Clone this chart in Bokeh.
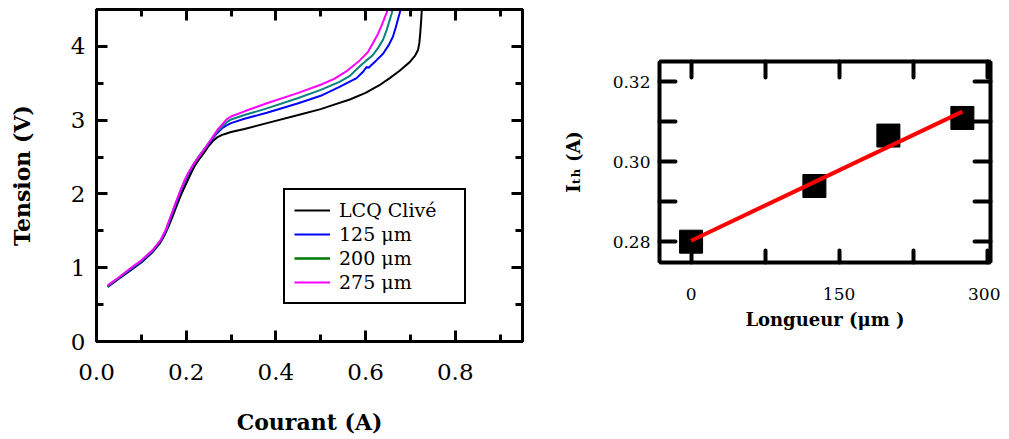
from bokeh.plotting import figure
from bokeh.layouts import row, column
from bokeh.models import (Range1d, FixedTicker, LinearAxis, PrintfTickFormatter,
                          Legend, LegendItem, CustomJSTickFormatter)
from bokeh.embed import file_html
from bokeh.resources import INLINE
import numpy as np

# ---------------- data: V(I) curves ----------------
clive_I = [0.025, 0.05, 0.075, 0.10, 0.125, 0.14, 0.15, 0.16, 0.17, 0.18, 0.19, 0.20, 0.21, 0.22,
           0.23, 0.24, 0.25, 0.26, 0.27, 0.28, 0.29, 0.30, 0.33, 0.38, 0.45, 0.50, 0.53, 0.565,
           0.60, 0.63, 0.654, 0.676, 0.699, 0.710, 0.717, 0.720, 0.722, 0.724, 0.726]
clive_V = [0.74, 0.85, 0.96, 1.07, 1.21, 1.32, 1.42, 1.55, 1.70, 1.86, 2.01, 2.14, 2.27, 2.39,
           2.48, 2.56, 2.65, 2.72, 2.77, 2.80, 2.82, 2.84, 2.88, 2.96, 3.07, 3.15, 3.21, 3.28,
           3.37, 3.47, 3.57, 3.67, 3.79, 3.87, 3.95, 4.05, 4.18, 4.35, 4.55]

l125_I = [0.025, 0.05, 0.075, 0.10, 0.125, 0.145, 0.157, 0.167, 0.178, 0.188, 0.198, 0.208, 0.22,
          0.23, 0.24, 0.25, 0.26, 0.27, 0.28, 0.29, 0.30, 0.33, 0.38, 0.45, 0.50, 0.542, 0.58,
          0.595, 0.602, 0.607, 0.612, 0.624, 0.639, 0.652, 0.661, 0.667, 0.672, 0.676, 0.68]
l125_V = [0.745, 0.86, 0.97, 1.08, 1.22, 1.38, 1.53, 1.70, 1.88, 2.04, 2.18, 2.30, 2.43,
          2.52, 2.60, 2.68, 2.76, 2.83, 2.89, 2.93, 2.96, 3.02, 3.10, 3.23, 3.33, 3.45, 3.57,
          3.66, 3.72, 3.71, 3.74, 3.81, 3.90, 4.02, 4.13, 4.25, 4.36, 4.45, 4.55]

l200_I = [0.025, 0.05, 0.075, 0.10, 0.125, 0.144, 0.156, 0.166, 0.177, 0.187, 0.197, 0.207, 0.218,
          0.229, 0.24, 0.25, 0.26, 0.27, 0.28, 0.29, 0.30, 0.33, 0.38, 0.45, 0.50, 0.542, 0.565,
          0.587, 0.60, 0.616, 0.628, 0.639, 0.647, 0.654, 0.658, 0.662]
l200_V = [0.75, 0.865, 0.98, 1.09, 1.23, 1.38, 1.52, 1.70, 1.88, 2.04, 2.18, 2.30, 2.42,
          2.52, 2.60, 2.69, 2.77, 2.85, 2.91, 2.97, 3.01, 3.07, 3.16, 3.30, 3.41, 3.52, 3.60,
          3.73, 3.80, 3.88, 3.98, 4.09, 4.22, 4.36, 4.44, 4.55]

l275_I = [0.025, 0.05, 0.075, 0.10, 0.125, 0.143, 0.154, 0.165, 0.176, 0.186, 0.195, 0.205, 0.215,
          0.228, 0.24, 0.25, 0.26, 0.27, 0.28, 0.29, 0.30, 0.33, 0.38, 0.45, 0.50, 0.53, 0.557,
          0.587, 0.605, 0.616, 0.627, 0.635, 0.642, 0.648, 0.652]
l275_V = [0.76, 0.87, 0.99, 1.10, 1.24, 1.375, 1.51, 1.69, 1.87, 2.03, 2.165, 2.29, 2.39,
          2.50, 2.60, 2.69, 2.78, 2.87, 2.94, 3.01, 3.05, 3.12, 3.23, 3.37, 3.48, 3.56, 3.66,
          3.81, 3.92, 4.04, 4.16, 4.27, 4.38, 4.47, 4.55]

legend_labels = ["LCQ Clivé", "125 μm", "200 μm", "275 μm"]

# ---------------- data: threshold current vs length ----------------
longueur = [0, 125, 200, 275]
ith = [0.2800, 0.2939, 0.3065, 0.3109]

# tick values / labels
x1_major = [0.0, 0.2, 0.4, 0.6, 0.8]
x1_minor = [0.1, 0.3, 0.5, 0.7, 0.9]
y1_major = [0, 1, 2, 3, 4]
y1_minor = [0.5, 1.5, 2.5, 3.5, 4.5]
x2_ticks = [0, 75, 150, 225, 300]
x2_hidden = [75, 225]
y2_ticks = [0.28, 0.29, 0.30, 0.31, 0.32]
y2_hidden = [0.29, 0.31]

FONT = "DejaVu Serif"
blank = CustomJSTickFormatter(code="return ''")


def style_axis(ax, font_size, tick_in, minor_in, width=3, cap="butt"):
    ax.axis_line_width = width
    ax.axis_line_color = "black"
    ax.major_tick_in = tick_in
    ax.major_tick_out = 0
    ax.minor_tick_in = minor_in
    ax.minor_tick_out = 0
    ax.major_tick_line_width = width
    ax.minor_tick_line_width = width
    ax.major_tick_line_color = "black"
    ax.minor_tick_line_color = "black"
    ax.major_tick_line_cap = cap
    ax.minor_tick_line_cap = cap
    ax.major_label_text_font = FONT
    ax.major_label_text_font_size = font_size
    ax.major_label_text_color = "black"
    ax.axis_label_text_font = FONT
    ax.axis_label_text_font_style = "bold"
    ax.axis_label_text_color = "black"


# ================= left figure =================
p1 = figure(width=557, height=437, x_range=Range1d(0, 0.95), y_range=Range1d(0, 4.5),
            output_backend="svg", toolbar_location=None,
            min_border_left=96, min_border_right=35, min_border_top=9, min_border_bottom=96)
p1.xgrid.visible = False
p1.ygrid.visible = False
p1.outline_line_color = "black"
p1.outline_line_width = 3

xt1 = FixedTicker(ticks=x1_major, minor_ticks=x1_minor)
yt1 = FixedTicker(ticks=y1_major, minor_ticks=y1_minor)

ax = p1.xaxis[0]
ax.ticker = xt1
ax.formatter = PrintfTickFormatter(format="%.1f")
style_axis(ax, "23px", 11, 7)
ax.major_label_standoff = 22
ax.axis_label = "Courant (A)"
ax.axis_label_text_font_size = "22px"
ax.axis_label_standoff = 26

ay = p1.yaxis[0]
ay.ticker = yt1
ay.formatter = PrintfTickFormatter(format="%d")
style_axis(ay, "23px", 11, 7)
ay.major_label_standoff = 11
ay.axis_label = "Tension (V)"
ay.axis_label_text_font_size = "22px"
ay.axis_label_standoff = 33

top1 = LinearAxis(ticker=xt1, formatter=blank, major_label_standoff=0)
style_axis(top1, "1px", 11, 7)
p1.add_layout(top1, "above")
right1 = LinearAxis(ticker=yt1, formatter=blank, major_label_standoff=0)
style_axis(right1, "1px", 11, 7)
p1.add_layout(right1, "right")

r0 = p1.line(clive_I, clive_V, line_color="black", line_width=2)
r1 = p1.line(l125_I, l125_V, line_color="#0000FF", line_width=2)
r2 = p1.line(l200_I, l200_V, line_color="#0A8080", line_width=2)
r3 = p1.line(l275_I, l275_V, line_color="#FF00FF", line_width=2)
# the 200 µm swatch is green in the original legend: hidden twin used only for the legend
r2_leg = p1.line(l200_I, l200_V, line_color="#007A00", line_width=2.5, visible=False)

legend = Legend(items=[LegendItem(label=t, renderers=[r]) for t, r in
                       zip(legend_labels, [r0, r1, r2_leg, r3])],
                location=(187, 37))
legend.border_line_color = "black"
legend.border_line_width = 2
legend.border_line_alpha = 1
legend.background_fill_color = "white"
legend.background_fill_alpha = 1
legend.padding = 9
legend.spacing = 2
legend.margin = 0
legend.label_height = 20
legend.glyph_height = 20
legend.glyph_width = 36
legend.label_standoff = 9
legend.label_width = 116
legend.label_text_font = FONT
legend.label_text_font_size = "19px"
legend.label_text_color = "black"
legend.click_policy = "none"
p1.add_layout(legend)

# ================= right figure =================
p2 = figure(width=443, height=437, x_range=Range1d(-32, 303.5), y_range=Range1d(0.2748, 0.325),
            output_backend="svg", toolbar_location=None,
            min_border_left=102, min_border_right=10, min_border_top=61, min_border_bottom=175)
p2.xgrid.visible = False
p2.ygrid.visible = False
p2.outline_line_color = "black"
p2.outline_line_width = 3

xt2 = FixedTicker(ticks=x2_ticks, minor_ticks=[])
yt2 = FixedTicker(ticks=y2_ticks, minor_ticks=[])

bx = p2.xaxis[0]
bx.ticker = xt2
bx.major_label_overrides = {v: "" for v in x2_hidden}
style_axis(bx, "17px", 12, 0, width=4, cap="round")
bx.major_label_standoff = 25
bx.axis_label = "Longueur (μm )"
bx.axis_label_text_font_size = "18px"
bx.axis_label_standoff = 6

by = p2.yaxis[0]
by.ticker = yt2
by.formatter = PrintfTickFormatter(format="%.2f")
by.major_label_overrides = {v: "" for v in y2_hidden}
style_axis(by, "17px", 16, 0, width=4, cap="round")
by.major_label_standoff = 9
by.axis_label = "Iₜₕ (A)"
by.axis_label_text_font_size = "18px"
by.axis_label_standoff = 26

top2 = LinearAxis(ticker=xt2, formatter=blank, major_label_standoff=0)
style_axis(top2, "1px", 16, 0, width=4, cap="round")
p2.add_layout(top2, "above")
right2 = LinearAxis(ticker=yt2, formatter=blank, major_label_standoff=0)
style_axis(right2, "1px", 16, 0, width=4, cap="round")
p2.add_layout(right2, "right")

p2.scatter(longueur, ith, marker="square", size=23, fill_color="black", line_color="black")

slope, intercept = np.polyfit(longueur, ith, 1)
fit_x = [min(longueur), max(longueur)]
fit_y = [intercept + slope * v for v in fit_x]
p2.line(fit_x, fit_y, line_color="#FF0000", line_width=4)

layout = row(column(p1), column(p2))
open("out.html", "w").write(file_html(layout, INLINE))
